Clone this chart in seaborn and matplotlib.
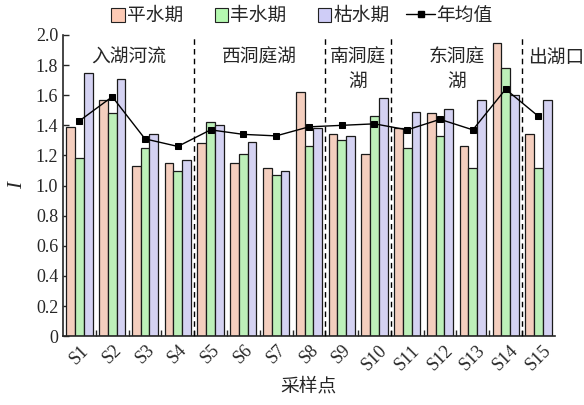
import matplotlib
matplotlib.use('Agg')
import matplotlib.pyplot as plt
import seaborn as sns
import pandas as pd
from matplotlib.patches import Rectangle
from matplotlib.lines import Line2D
from matplotlib.legend_handler import HandlerPatch
from matplotlib.ticker import FixedLocator

# ---------------- data ----------------
sites = ['S1', 'S2', 'S3', 'S4', 'S5', 'S6', 'S7', 'S8', 'S9', 'S10',
         'S11', 'S12', 'S13', 'S14', 'S15']
ping = [1.39, 1.57, 1.13, 1.15, 1.28, 1.15, 1.12, 1.62, 1.34, 1.21, 1.38, 1.48, 1.26, 1.95, 1.34]
feng = [1.18, 1.48, 1.25, 1.10, 1.42, 1.21, 1.07, 1.26, 1.30, 1.46, 1.25, 1.33, 1.12, 1.78, 1.12]
ku = [1.75, 1.71, 1.34, 1.17, 1.40, 1.29, 1.10, 1.38, 1.33, 1.58, 1.49, 1.51, 1.57, 1.60, 1.57]
annual_mean = [1.43, 1.59, 1.31, 1.26, 1.37, 1.34, 1.33, 1.39, 1.40, 1.41, 1.37, 1.44, 1.37, 1.64, 1.46]
periods = ['平水期', '丰水期', '枯水期']
mean_label = '年均值'
regions = ['入湖河流', '西洞庭湖', '南洞庭\n湖', '东洞庭\n湖', '出湖口']
region_first_last = [(0, 3), (4, 7), (8, 9), (10, 13), (14, 14)]
yticks = [0, 0.2, 0.4, 0.6, 0.8, 1.0, 1.2, 1.4, 1.6, 1.8, 2.0]
ytick_labels = ['0', '0.2', '0.4', '0.6', '0.8', '1.0', '1.2', '1.4', '1.6', '1.8', '2.0']

colors = ['#FDCAB5', '#B5F9B0', '#CFCDF7']

# ---------------- style ----------------
sns.set_style('ticks')
plt.rcParams['font.family'] = ['Liberation Serif', 'Noto Sans CJK SC']
plt.rcParams['axes.unicode_minus'] = False

wide = pd.DataFrame({'采样点': sites, periods[0]: ping, periods[1]: feng, periods[2]: ku})
long = wide.melt(id_vars='采样点', var_name='期', value_name='I')
mean_df = pd.DataFrame({'采样点': sites, 'mean': annual_mean})

fig = plt.figure(figsize=(5.84, 4.05), dpi=100)
ax = fig.add_axes([0.108, 0.170, 0.842, 0.7436])

sns.barplot(data=long, x='采样点', y='I', hue='期', hue_order=periods,
            palette=colors, width=0.8, edgecolor='#1a1a1a', linewidth=0.9,
            errorbar=None, legend=False, ax=ax)
sns.pointplot(data=mean_df, x='采样点', y='mean', color='black', markers='s',
              markersize=5, linewidth=1, errorbar=None, ax=ax)

# region separators
for (a, b) in region_first_last[:-1]:
    ax.axvline(b + 0.5, color='black', lw=1, ls=(0, (4, 3)), zorder=5)

# region labels
cjk = ['Noto Sans CJK SC', 'DejaVu Sans']
for name, (a, b) in zip(regions, region_first_last):
    if a == b:
        ax.text(b - 0.32, 1.855, name, ha='left', va='center', fontsize=13.5,
                family=cjk, clip_on=False)
    elif '\n' in name:
        ax.text((a + b) / 2, 1.925, name, ha='center', va='top', fontsize=13.5,
                family=cjk, linespacing=1.25)
    else:
        ax.text((a + b) / 2, 1.855, name, ha='center', va='center', fontsize=13.5,
                family=cjk)

ax.set_xlim(-0.5, 14.5)
ax.set_ylim(0, 2.0)
ax.yaxis.set_major_locator(FixedLocator(yticks))
ax.set_yticklabels(ytick_labels)
ax.tick_params(axis='y', direction='in', length=4, width=1, labelsize=13)
ax.tick_params(axis='x', which='major', length=0, labelsize=13, pad=4)
ax.xaxis.set_minor_locator(FixedLocator([i + 0.5 for i in range(len(sites) - 1)]))
ax.tick_params(axis='x', which='minor', direction='in', length=4, width=1)
for lab in ax.get_xticklabels():
    lab.set_rotation(45)
    lab.set_ha('center')

for s in ['left', 'bottom']:
    ax.spines[s].set_linewidth(1.2)
sns.despine(ax=ax)

ax.set_xlabel('采样点', fontsize=13.5, family=cjk, labelpad=1)
ax.set_ylabel('I', fontsize=15, fontstyle='italic', labelpad=6)


class SquareHandler(HandlerPatch):
    def create_artists(self, legend, orig_handle, xdescent, ydescent,
                       width, height, fontsize, trans):
        s = height * 1.05
        p = Rectangle((-xdescent + width - s, -ydescent - 0.05 * height), s, s,
                      facecolor=orig_handle.get_facecolor(),
                      edgecolor=orig_handle.get_edgecolor(),
                      linewidth=orig_handle.get_linewidth(), transform=trans)
        return [p]


handles = [Rectangle((0, 0), 1, 1, facecolor=c, edgecolor='#222222', linewidth=0.8)
           for c in colors]
handles.append(Line2D([], [], color='black', marker='s', markersize=5, linewidth=1))
fig.legend(handles, periods + [mean_label], loc='center', bbox_to_anchor=(0.505, 0.962),
           ncol=4, frameon=False, prop={'family': cjk, 'size': 13.5},
           handlelength=1.5, handleheight=0.7, handletextpad=0.1, columnspacing=0.9,
           handler_map={Rectangle: SquareHandler()})

fig.savefig('out.png', dpi=100)
